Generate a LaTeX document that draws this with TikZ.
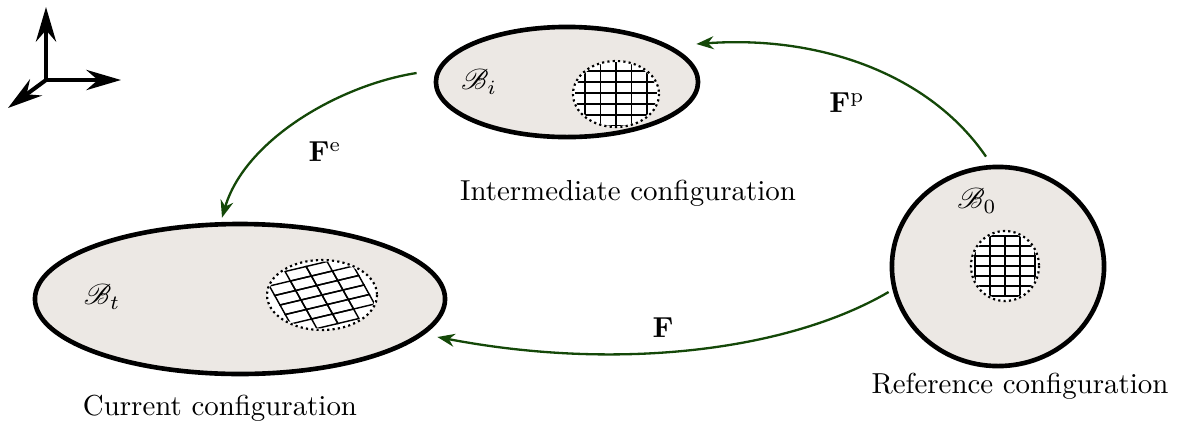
\documentclass[tikz,border=0pt]{standalone}
\usepackage{mathrsfs}
\usetikzlibrary{arrows.meta,shapes.geometric}

\definecolor{bodyfill}{RGB}{236,232,228}
\definecolor{mapgreen}{RGB}{20,72,8}

\tikzset{
  body/.style={ellipse, draw=black, line width=1.6pt, fill=bodyfill, inner sep=0pt},
  patch/.style={fill=white, draw=black, line width=0.75pt, dash pattern=on 0.75pt off 1.1pt},
  meshline/.style={draw=black, line width=0.5pt},
  mapping/.style={draw=mapgreen, line width=0.8pt, -{Stealth[length=6pt,width=4.5pt]}},
  axis/.style={line width=1.4pt, -{Stealth[length=12pt,width=7pt,inset=4pt]}},
  lbl/.style={inner sep=0pt},
}

% Mesh of parallelogram cells: origin O, cell vectors A and B,
% a cell is kept when its centre lies inside the material patch.
\newcommand\drawmesh{%
  \foreach \i in {-3,...,2}{%
    \foreach \j in {-3,...,2}{%
      \pgfmathsetmacro\meshTest{((\i+0.5)*\meshSx/\meshRx)^2+((\j+0.5)*\meshSy/\meshRy)^2}%
      \ifdim\meshTest pt<0.9pt
        \draw[meshline]
          ({\meshOx+(\i)*(\meshAx)+(\j)*(\meshBx)},{\meshOy+(\i)*(\meshAy)+(\j)*(\meshBy)})
          -- ({\meshOx+(\i+1)*(\meshAx)+(\j)*(\meshBx)},{\meshOy+(\i+1)*(\meshAy)+(\j)*(\meshBy)})
          -- ({\meshOx+(\i+1)*(\meshAx)+(\j+1)*(\meshBx)},{\meshOy+(\i+1)*(\meshAy)+(\j+1)*(\meshBy)})
          -- ({\meshOx+(\i)*(\meshAx)+(\j+1)*(\meshBx)},{\meshOy+(\i)*(\meshAy)+(\j+1)*(\meshBy)})
          -- cycle;
      \fi
    }%
  }%
}

\begin{document}
\begin{tikzpicture}[x=0.346pt, y=-0.346pt]
  \useasboundingbox (0,0) rectangle (1184,423);

  % reference frame
  \coordinate (axo) at (46,80);
  \draw[axis] (axo) -- ++(0,-73);
  \draw[axis] (axo) -- ++(75,0);
  \draw[axis] (axo) -- ++(-38,28);

  % bodies
  \node[body, minimum width=141.9pt, minimum height=51.9pt] (cur) at (240,299) {};
  \node[body, minimum width=90.7pt, minimum height=38.1pt] (int) at (567,82) {};
  \node[body, minimum width=73.4pt, minimum height=68.9pt] (ref) at (998,266.5) {};

  % material patch, intermediate configuration
  \draw[patch] (616,94) ellipse [x radius=43, y radius=33];
  \begin{scope}
    \clip (616,94) ellipse [x radius=41, y radius=32];
    \def\meshOx{616}\def\meshOy{93}
    \def\meshAx{15.5}\def\meshAy{0}\def\meshBx{0}\def\meshBy{11}
    \def\meshSx{15.5}\def\meshSy{11}\def\meshRx{43}\def\meshRy{33}
    \drawmesh
  \end{scope}

  % material patch, reference configuration
  \draw[patch] (1005,266) ellipse [x radius=34, y radius=35];
  \begin{scope}
    \clip (1005,266) ellipse [x radius=32.5, y radius=33.5];
    \def\meshOx{1005}\def\meshOy{266}
    \def\meshAx{15}\def\meshAy{0}\def\meshBx{0}\def\meshBy{10}
    \def\meshSx{15}\def\meshSy{10}\def\meshRx{34}\def\meshRy{34}
    \drawmesh
  \end{scope}

  % material patch, current configuration (sheared mesh)
  \draw[patch] (322,295) ellipse [x radius=55, y radius=35];
  \begin{scope}
    \clip (322,295) ellipse [x radius=53.5, y radius=33.5];
    \def\meshOx{322}\def\meshOy{295}
    \def\meshAx{21}\def\meshAy{-5}\def\meshBx{5.3}\def\meshBy{9.5}
    \def\meshSx{15}\def\meshSy{10}\def\meshRx{34}\def\meshRy{34}
    \drawmesh
  \end{scope}

  % body labels
  \node[lbl] (bi) at (479,82) {$\mathscr{B}_i$};
  \node[lbl] (bt) at (102,297) {$\mathscr{B}_t$};
  \node[lbl] (b0) at (977,201) {$\mathscr{B}_0$};

  \node[lbl] (tint) at (628,193) {Intermediate configuration};
  \node[lbl] (tcur) at (220,408) {Current configuration};
  \node[lbl] (tref) at (1020,386) {Reference configuration};

  % mappings
  \coordinate (fp-s) at ([shift={(-12,-8)}]ref.north);
  \coordinate (fp-e) at ([shift={(-4,-38)}]int.east);
  \coordinate (fe-s) at ([shift={(-17,-9)}]int.west);
  \coordinate (fe-e) at ([shift={(-18,-4)}]cur.north);
  \coordinate (f-s)  at ([shift={(-1,25.5)}]ref.west);
  \coordinate (f-e)  at ([shift={(-10,38)}]cur.east);

  \draw[mapping] (fp-s) .. controls +(-56,-82) and +(124,-9) .. (fp-e);
  \draw[mapping] (fe-s) .. controls +(-77,12) and +(23,-78) .. (fe-e);
  \draw[mapping] (f-s) .. controls +(-99,58) and +(183,35) .. (f-e);

  \node[lbl] (lfp) at (847,103) {$\mathbf{F}^{\mathrm{p}}$};
  \node[lbl] (lfe) at (325,152) {$\mathbf{F}^{\mathrm{e}}$};
  \node[lbl] (lf)  at (663,328) {$\mathbf{F}$};
\end{tikzpicture}
\end{document}
